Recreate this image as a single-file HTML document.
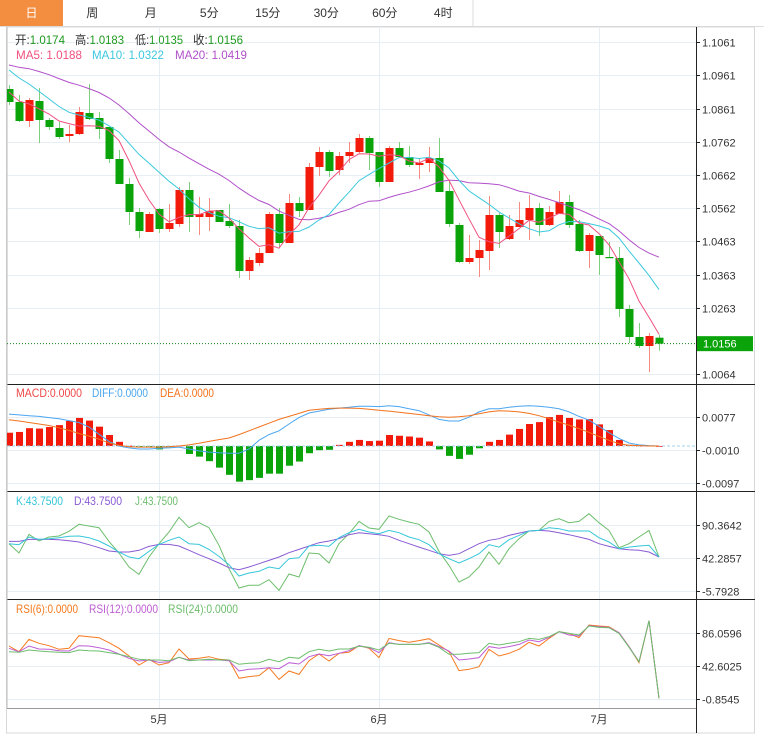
<!DOCTYPE html>
<html><head><meta charset="utf-8">
<style>
html,body{margin:0;padding:0;background:#fff;width:764px;height:745px;overflow:hidden}
svg{display:block;font-family:"Liberation Sans","Noto Sans CJK SC",sans-serif}
</style></head>
<body>
<svg id="c" width="764" height="745" viewBox="0 0 764 745"></svg>
<script>
// ---- data ----
const opens=[1.0920,1.0881,1.0824,1.0884,1.0827,1.0803,1.0779,1.0785,1.0848,1.0833,1.0806,1.0710,1.0635,1.0551,1.0491,1.0560,1.0500,1.0515,1.0617,1.0536,1.0536,1.0557,1.0524,1.0509,1.0374,1.0398,1.0428,1.0545,1.0458,1.0578,1.0557,1.0686,1.0731,1.0677,1.0719,1.0731,1.0773,1.0731,1.0641,1.0743,1.0716,1.0692,1.0698,1.0713,1.0614,1.0512,1.0401,1.0413,1.0434,1.0542,1.0470,1.0506,1.0527,1.0563,1.0512,1.0545,1.0581,1.0515,1.0434,1.0479,1.0416,1.0413,1.0260,1.0176,1.0149,1.0174];
const highs=[1.0932,1.0902,1.0893,1.0923,1.0833,1.0821,1.0812,1.0866,1.0935,1.0851,1.0806,1.0737,1.0653,1.0563,1.0551,1.0563,1.0575,1.0626,1.0641,1.0596,1.0593,1.0557,1.0575,1.0527,1.0416,1.0443,1.0551,1.0563,1.0605,1.0596,1.0698,1.0746,1.0737,1.0731,1.0761,1.0785,1.0779,1.0731,1.0749,1.0761,1.0749,1.0713,1.0746,1.0773,1.0647,1.0518,1.0482,1.0467,1.0599,1.0548,1.0542,1.0581,1.0602,1.0578,1.0569,1.0614,1.0602,1.0527,1.0488,1.0479,1.0461,1.0446,1.0272,1.0218,1.0188,1.0183];
const lows=[1.0872,1.0821,1.0806,1.0758,1.0797,1.0770,1.0761,1.0782,1.0827,1.0770,1.0698,1.0635,1.0512,1.0473,1.0491,1.0488,1.0491,1.0506,1.0491,1.0482,1.0494,1.0521,1.0503,1.0353,1.0347,1.0389,1.0428,1.0446,1.0458,1.0536,1.0557,1.0659,1.0656,1.0662,1.0698,1.0728,1.0677,1.0626,1.0641,1.0713,1.0686,1.0650,1.0671,1.0611,1.0506,1.0398,1.0395,1.0356,1.0377,1.0443,1.0467,1.0506,1.0467,1.0479,1.0509,1.0545,1.0503,1.0431,1.0383,1.0362,1.0413,1.0236,1.0158,1.0143,1.0071,1.0135];
const closes=[1.0881,1.0824,1.0887,1.0827,1.0806,1.0776,1.0785,1.0851,1.0830,1.0800,1.0710,1.0635,1.0551,1.0494,1.0545,1.0500,1.0518,1.0617,1.0536,1.0545,1.0554,1.0521,1.0509,1.0374,1.0407,1.0428,1.0545,1.0458,1.0578,1.0554,1.0686,1.0731,1.0674,1.0719,1.0731,1.0773,1.0728,1.0641,1.0743,1.0716,1.0692,1.0698,1.0713,1.0611,1.0515,1.0401,1.0413,1.0437,1.0542,1.0491,1.0509,1.0527,1.0563,1.0512,1.0551,1.0581,1.0512,1.0434,1.0482,1.0422,1.0413,1.0260,1.0176,1.0149,1.0179,1.0156];
const priorCloses=[1.0960,1.0975,1.0990,1.1000,1.1010,1.1015,1.1020,1.1030,1.1035,1.1035,1.1060,1.1070,1.1050,1.1030,1.1005,1.0960,1.0930,1.0900,1.0884];
const priceTicks=[1.1061,1.0961,1.0861,1.0762,1.0662,1.0562,1.0463,1.0363,1.0263,1.0064];
const lastPrice=1.0156;
const monthLabels=["5月","6月","7月"];
const monthIdx=[15,37,59];

const macdHist=[0.0035,0.0037,0.0047,0.0046,0.0050,0.0055,0.0066,0.0074,0.0067,0.0051,0.0029,0.0011,0.0001,-0.0001,-0.0001,-0.0009,-0.0003,0.0001,-0.0021,-0.0028,-0.0040,-0.0057,-0.0076,-0.0094,-0.0090,-0.0084,-0.0073,-0.0073,-0.0052,-0.0041,-0.0019,-0.0011,-0.0010,0.0003,0.0011,0.0016,0.0013,0.0014,0.0029,0.0027,0.0025,0.0022,0.0012,-0.0009,-0.0026,-0.0034,-0.0023,-0.0006,0.0011,0.0016,0.0030,0.0045,0.0058,0.0063,0.0076,0.0082,0.0074,0.0070,0.0071,0.0057,0.0042,0.0016,0.0003,0.0001,0.0001,0.0000];
const diffVals=[0.0084,0.0082,0.0080,0.0078,0.0075,0.0072,0.0067,0.0062,0.0050,0.0031,0.0012,0.0000,-0.0005,-0.0008,-0.0008,-0.0006,-0.0005,-0.0003,-0.0008,-0.0013,-0.0016,-0.0018,-0.0019,-0.0019,-0.0008,0.0015,0.0030,0.0040,0.0058,0.0075,0.0087,0.0092,0.0097,0.0100,0.0102,0.0105,0.0105,0.0104,0.0106,0.0104,0.0098,0.0093,0.0082,0.0070,0.0066,0.0066,0.0076,0.0090,0.0098,0.0098,0.0102,0.0105,0.0106,0.0105,0.0102,0.0098,0.0090,0.0078,0.0068,0.0052,0.0035,0.0020,0.0008,0.0003,0.0001,0.0000];
const deaVals=[0.0069,0.0066,0.0062,0.0058,0.0054,0.0048,0.0041,0.0033,0.0026,0.0018,0.0008,0.0002,-0.0002,-0.0003,-0.0003,-0.0003,-0.0002,0.0000,0.0003,0.0007,0.0012,0.0017,0.0021,0.0030,0.0040,0.0050,0.0060,0.0070,0.0078,0.0086,0.0094,0.0097,0.0099,0.0100,0.0100,0.0099,0.0097,0.0094,0.0092,0.0089,0.0086,0.0083,0.0080,0.0077,0.0076,0.0077,0.0080,0.0085,0.0090,0.0093,0.0092,0.0090,0.0086,0.0080,0.0072,0.0063,0.0055,0.0046,0.0036,0.0025,0.0015,0.0006,0.0002,0.0001,0.0000,0.0000];
const macdTicks=[0.0077,-0.0010,-0.0097];

const kVals=[62.7,61.2,72.4,69.0,70.0,71.4,73.4,73.9,71.4,66.6,59.3,50.6,43.3,40.8,51.5,61.7,67.6,72.4,62.7,61.7,54.4,44.2,32.1,15.6,20.0,22.4,28.7,26.3,40.8,42.3,59.3,60.3,58.8,71.4,78.7,83.6,79.7,77.3,82.1,78.7,72.4,68.5,61.2,48.1,40.8,34.5,40.8,48.1,61.2,57.8,68.5,74.8,81.2,82.1,86.0,84.6,81.2,81.2,81.2,71.4,65.1,55.4,57.8,59.3,60.3,43.3];
const dVals=[66.1,66.1,69.0,69.0,69.0,68.5,67.1,65.1,61.2,56.9,52.0,50.6,50.6,53.0,58.8,61.7,61.7,59.3,53.0,46.7,40.8,34.5,27.7,24.8,28.7,33.6,38.4,43.3,49.6,54.4,59.3,64.2,66.6,70.0,75.8,78.7,77.3,75.8,73.4,67.6,62.7,57.8,53.0,48.1,45.7,48.1,55.4,62.7,67.6,70.0,74.8,78.2,81.2,82.1,81.2,78.7,75.8,72.4,69.0,62.7,58.8,55.4,54.0,53.0,50.6,43.3];
const jVals=[62.7,49.1,76.3,66.6,72.4,73.9,80.7,90.9,88.4,86.0,66.1,49.1,28.7,18.0,43.3,62.7,79.7,101.1,86.0,93.3,86.0,60.3,26.3,-1.9,2.0,2.0,10.2,-5.3,18.5,14.1,49.1,48.1,34.5,62.7,77.3,95.2,85.5,83.6,103.0,98.2,94.3,90.9,79.7,51.5,31.1,6.8,14.1,28.7,50.6,32.6,55.4,70.0,81.2,82.1,95.2,99.1,93.3,95.2,106.4,93.3,82.1,56.9,62.7,72.4,82.1,43.3];
const kdjTicks=[90.3642,42.2857,-5.7928];

const rsi6=[68.9,61.5,77.7,72.5,69.4,64.6,65.9,82.5,81.2,79.9,73.3,65.9,55.8,43.9,51.4,43.9,47.0,65.0,51.8,52.7,54.9,51.4,50.5,26.4,28.6,29.9,40.4,25.0,36.0,31.6,49.6,58.4,49.2,59.3,60.6,69.4,65.9,53.6,79.0,76.0,73.8,76.0,78.6,70.3,61.5,36.5,38.2,41.7,64.6,55.8,59.3,64.6,73.8,68.9,79.0,87.8,85.6,79.9,96.6,95.3,94.4,86.5,68.1,47.0,102.3,0.0];
const rsi12=[65.9,61.5,68.9,65.0,64.6,62.8,62.4,69.4,68.9,66.7,63.7,58.4,52.7,49.2,50.5,47.4,48.3,54.0,50.5,50.5,50.5,50.5,49.6,36.0,38.2,39.1,40.4,39.1,47.0,45.2,54.9,58.4,56.2,59.3,62.8,69.4,66.7,60.2,73.3,71.1,71.1,71.1,73.3,68.1,62.4,50.5,51.8,53.6,68.1,65.9,68.1,71.1,76.8,74.6,80.4,87.8,83.4,82.1,95.7,94.4,93.5,86.5,68.1,48.3,102.3,0.0];
const rsi24=[61.5,60.6,63.7,62.4,61.5,60.6,60.2,63.7,62.8,62.4,60.2,58.0,54.9,51.4,50.5,50.5,49.6,54.0,49.6,50.5,51.4,50.5,50.5,44.8,46.1,47.0,51.4,48.3,54.0,52.7,61.5,64.6,62.4,65.0,65.0,68.5,67.2,63.7,72.5,71.1,71.1,71.1,72.5,67.2,58.0,58.0,59.3,60.2,72.5,70.3,72.5,74.6,79.0,77.7,81.2,87.8,85.6,83.4,95.3,93.5,93.1,85.6,67.2,48.3,102.3,0.0];
const rsiTicks=[86.0596,42.6025,-0.8545];

const tabs=["日","周","月","5分","15分","30分","60分","4时"];

// ---- scales ----
const xc=i=>9+10*i;
const yP=v=>42+(1.1061-v)/0.0003;
const yM=v=>446-v*3793;
const yK=v=>557.7-(v-42.2857)/1.457;
const yR=v=>666-(v-42.6025)/1.317;

const NS="http://www.w3.org/2000/svg";
const svg=document.getElementById('c');
function mk(tag,attrs,parent){const e=document.createElementNS(NS,tag);for(const k in attrs)e.setAttribute(k,attrs[k]);(parent||svg).appendChild(e);return e;}
function txt(x,y,s,fill,size,parent,anchor){const t=mk('text',{x:x,y:y,fill:fill,'font-size':size||12,'text-anchor':anchor||'start'},parent);t.textContent=s;return t;}

const defs=mk('defs',{});
const cp=mk('clipPath',{id:'plot'},defs);mk('rect',{x:7,y:27,width:689,height:681},cp);

// tabs
const tabBar=mk('g',{});


mk('line',{x1:0,y1:26.5,x2:764,y2:26.5,stroke:'#ddd'},tabBar);
tabs.forEach((t,i)=>{
  const g=mk('g',{},tabBar);
  
  
  const x=i?63+(i-1)*58.5:0;
  const w=i?58.5:63;
  mk('rect',{x:x,y:0,width:w,height:26,fill:i?'#fff':'#F38D40'},g);
  mk('line',{x1:x+w+0.5,y1:0,x2:x+w+0.5,y2:26,stroke:'#ddd'},g);
  txt(x+w/2,17,t,i?'#333':'#fff',12,g,'middle');
});

// frame
const frame=mk('g',{});


mk('rect',{x:6.5,y:27,width:748,height:706,fill:'none',stroke:'#d8d8d8'},frame);

// grid
const grid=mk('g',{stroke:'#e8eff4','stroke-width':1});


monthIdx.forEach(i=>mk('line',{x1:xc(i)+0.5,y1:27,x2:xc(i)+0.5,y2:708},grid));
priceTicks.forEach(v=>mk('line',{x1:7,y1:Math.round(yP(v))+0.5,x2:696,y2:Math.round(yP(v))+0.5},grid));
macdTicks.forEach(v=>mk('line',{x1:7,y1:Math.round(yM(v))+0.5,x2:696,y2:Math.round(yM(v))+0.5},grid));
kdjTicks.forEach(v=>mk('line',{x1:7,y1:Math.round(yK(v))+0.5,x2:696,y2:Math.round(yK(v))+0.5},grid));
rsiTicks.forEach(v=>mk('line',{x1:7,y1:Math.round(yR(v))+0.5,x2:696,y2:Math.round(yR(v))+0.5},grid));

// axes
const axes=mk('g',{});


[384,491,599].forEach(y=>mk('line',{x1:7,y1:y+0.5,x2:755,y2:y+0.5,stroke:'#222'},axes));
mk('line',{x1:7,y1:27,x2:7,y2:708,stroke:'#bbb'},axes);
mk('line',{x1:7,y1:708.5,x2:696,y2:708.5,stroke:'#999'},axes);
mk('line',{x1:696.5,y1:27,x2:696.5,y2:733,stroke:'#222'},axes);
function yLabels(ticks,f,name){
  const g=mk('g',{},axes);
  
  
  ticks.forEach(v=>{const y=Math.round(f(v))+0.5;mk('line',{x1:696,y1:y,x2:700,y2:y,stroke:'#222'},g);txt(702,y+4,v.toFixed(4),'#333',11,g);});
}
yLabels(priceTicks,yP,'price-axis-labels');
yLabels(macdTicks,yM,'macd-axis-labels');
yLabels(kdjTicks,yK,'kdj-axis-labels');
yLabels(rsiTicks,yR,'rsi-axis-labels');
const xl=mk('g',{},axes);


monthIdx.forEach((i,k)=>txt(xc(i),723,monthLabels[k],'#333',11,xl,'middle'));

// candles
const plot=mk('g',{'clip-path':'url(#plot)'});
const cg=mk('g',{},plot);


for(let i=0;i<closes.length;i++){
  const up=closes[i]>=opens[i];
  const col=up?'#F21A0A':'#0AA30A', wc=up?'#f58a80':'#7ccf7c';
  const g=mk('g',{},cg);
  
  
  const x=xc(i);
  mk('line',{x1:x+0.5,y1:yP(highs[i]),x2:x+0.5,y2:yP(lows[i]),stroke:wc,'stroke-width':1},g);
  const t=yP(Math.max(opens[i],closes[i])),b=yP(Math.min(opens[i],closes[i]));
  mk('rect',{x:x-3.5,y:t,width:8,height:Math.max(1.2,b-t),fill:col},g);
}
const allC=priorCloses.concat(closes);
function ma(n){return closes.map((_,i)=>{const j=i+priorCloses.length;let s=0;for(let k=j-n+1;k<=j;k++)s+=allC[k];return s/n;});}
function line(vals,f,color,name,parent){
  const p=vals.map((v,i)=>(i?'L':'M')+xc(i)+','+f(v).toFixed(1)).join('');
  const e=mk('path',{d:p,fill:'none',stroke:color,'stroke-width':1},parent||plot);
  
  
}
line(ma(20),yP,'#B150C9','ma20-line');
line(ma(10),yP,'#3CC8DE','ma10-line');
line(ma(5),yP,'#F0507E','ma5-line');
const lp=mk('g',{});


mk('line',{x1:7,y1:yP(lastPrice),x2:696,y2:yP(lastPrice),stroke:'#1a8a1a','stroke-dasharray':'1,2'},lp);
mk('rect',{x:697,y:yP(lastPrice)-7.5,width:56,height:15,fill:'#0AA30A'},lp);
txt(703,yP(lastPrice)+4,lastPrice.toFixed(4),'#fff',11,lp);

// MACD
const mg=mk('g',{},plot);


macdHist.forEach((v,i)=>{
  const b=mk('rect',{x:xc(i)-3,y:Math.min(yM(v),yM(0)),width:7,height:Math.max(0.8,Math.abs(yM(v)-yM(0))),fill:v>=0?'#F21A0A':'#0AA30A'},mg);
  
  
});
mk('line',{x1:7,y1:yM(0),x2:696,y2:yM(0),stroke:'#9fd3ee','stroke-dasharray':'3,2'},plot);
line(diffVals,yM,'#4BA6F0','diff-line');
line(deaVals,yM,'#F2721C','dea-line');
line(jVals,yK,'#6DBE6D','j-line');
line(dVals,yK,'#8A5BD3','d-line');
line(kVals,yK,'#36C6DA','k-line');
line(rsi6,yR,'#F57A1F','rsi6-line');
line(rsi12,yR,'#BE5ED4','rsi12-line');
line(rsi24,yR,'#6DBE6D','rsi24-line');

// legends
function legend(y,items,name){
  const g=mk('g',{});
  
  
  items.forEach(([x,w,lab,val,lc,vc])=>{
    const t=mk('text',{x:x,y:y,'font-size':12,textLength:w,lengthAdjust:'spacingAndGlyphs'},g);
    const a=mk('tspan',{fill:lc},t);a.textContent=lab;
    const b=mk('tspan',{fill:vc||lc},t);b.textContent=val;
  });
}
legend(44,[[15,50,"开:","1.0174","#333","#1E9B1E"],[75,49,"高:","1.0183","#333","#1E9B1E"],[135,48,"低:","1.0135","#333","#1E9B1E"],[193,50,"收:","1.0156","#333","#1E9B1E"]],'ohlc-legend');
legend(59,[[16,66,"MA5: ","1.0188","#F0507E"],[92,72,"MA10: ","1.0322","#3CC8DE"],[175,72,"MA20: ","1.0419","#B150C9"]],'ma-legend');
legend(397,[[16,66,"MACD:","0.0000","#F04848"],[92,56,"DIFF:","0.0000","#4BA6F0"],[160,54,"DEA:","0.0000","#F2721C"]],'macd-legend');
legend(505,[[16,47,"K:","43.7500","#36C6DA"],[74,48,"D:","43.7500","#8A5BD3"],[135,43,"J:","43.7500","#6DBE6D"]],'kdj-legend');
legend(613,[[16,62,"RSI(6):","0.0000","#F57A1F"],[89,69,"RSI(12):","0.0000","#BE5ED4"],[168,70,"RSI(24):","0.0000","#6DBE6D"]],'rsi-legend');
</script>
</body></html>
